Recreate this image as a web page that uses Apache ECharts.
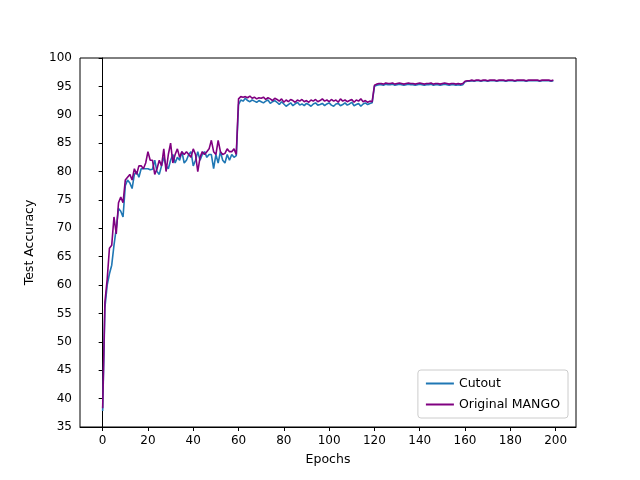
<!DOCTYPE html>
<html>
<head>
<meta charset="utf-8">
<script src="https://cdn.jsdelivr.net/npm/echarts@6/dist/echarts.min.js"></script>
<style>html,body{margin:0;padding:0;background:#fff}#chart{width:640px;height:480px}</style>
</head>
<body>
<div id="chart"></div>
<script>
// Test accuracy per epoch (0..199)
const cutout = [
  37.8, 56, 60, 62, 63.5, 67, 70, 73.5, 73, 72, 77.5, 78.5, 78, 77, 79.5, 80, 79, 80.5, 80.5, 80.5,
  80.5, 80.3, 80.4, 82, 80, 79.5, 81, 82.5, 81, 80.5, 82, 83, 81.5, 82.5, 82, 83.5, 81.5, 82, 83, 83.5,
  81, 82, 83.5, 82, 83, 83.5, 82.5, 83, 83, 80.5, 83, 81.5, 83.5, 82, 81.5, 83, 82, 83, 82.5, 82.8,
  91.8, 92.6, 92.4, 92.9, 92.5, 92.3, 92.6, 92.4, 92.2, 92.5, 92.3, 92.1, 92.4, 92.6, 92.0, 92.3, 92.5, 92.2, 91.8, 92.3,
  91.9, 91.5, 91.8, 92.1, 91.6, 91.9, 92.2, 91.7, 91.9, 91.6, 92.0, 91.8, 91.5, 91.9, 92.1, 91.7, 91.8, 92.0, 91.6, 91.9,
  92.1, 91.7, 91.5, 91.9, 92.0, 91.6, 91.8, 92.1, 91.7, 91.9, 92.2, 91.6, 91.8, 92.0, 91.5, 91.9, 92.1, 91.8, 92.0, 92.1,
  95.0, 95.2, 95.3, 95.3, 95.2, 95.4, 95.3, 95.3, 95.4, 95.2, 95.3, 95.4, 95.3, 95.2, 95.3, 95.4, 95.3, 95.3, 95.2, 95.3,
  95.4, 95.3, 95.2, 95.3, 95.3, 95.4, 95.2, 95.3, 95.3, 95.2, 95.3, 95.4, 95.3, 95.2, 95.3, 95.3, 95.2, 95.3, 95.2, 95.3,
  95.8, 95.9, 95.9, 96.0, 95.9, 96.0, 96.0, 95.9, 96.0, 96.0, 95.9, 96.0, 96.0, 96.0, 95.9, 96.0, 96.0, 96.0, 95.9, 96.0,
  96.0, 96.0, 95.9, 96.0, 96.0, 96.0, 96.0, 95.9, 96.0, 96.0, 96.0, 96.0, 96.0, 95.9, 96.0, 96.0, 96.0, 96.0, 95.9, 96.0
];
const mango = [
  38.3, 57, 61, 66.5, 67, 72, 69, 74.5, 75.5, 74.5, 78.5, 79, 79.5, 78.5, 80.5, 79.5, 81, 81, 80.5, 81.5,
  83.5, 82, 82, 79.5, 80.5, 82, 81, 84, 80, 83, 85, 81.5, 83, 84, 82.5, 83.5, 83, 83.5, 83, 82.5,
  84, 83, 80, 82.5, 83.5, 83, 83.5, 84, 85.5, 83.5, 83, 85.5, 83.5, 83, 83.2, 84, 83.5, 83.5, 84, 83,
  92.8, 93.2, 93.1, 93.2, 93.0, 93.3, 92.9, 93.1, 92.8, 93.0, 92.9, 93.1, 92.7, 93.0, 92.8, 92.5, 92.9, 92.7, 92.4, 92.8,
  92.2, 92.6, 92.3, 92.7, 92.5, 92.2, 92.6, 92.4, 92.7, 92.3, 92.5, 92.2, 92.6, 92.4, 92.7, 92.3, 92.5, 92.8, 92.4, 92.6,
  92.3, 92.7, 92.4, 92.6, 92.2, 92.8, 92.4, 92.6, 92.3, 92.5, 92.7, 92.2, 92.6, 92.4, 92.8, 92.3, 92.5, 92.2, 92.4, 92.3,
  95.2, 95.4, 95.5, 95.5, 95.4, 95.6, 95.5, 95.5, 95.6, 95.4, 95.5, 95.6, 95.5, 95.4, 95.5, 95.6, 95.5, 95.5, 95.4, 95.5,
  95.6, 95.5, 95.4, 95.5, 95.5, 95.6, 95.4, 95.5, 95.5, 95.4, 95.5, 95.6, 95.5, 95.4, 95.5, 95.5, 95.4, 95.5, 95.4, 95.5,
  95.9, 96.0, 96.0, 96.1, 96.0, 96.1, 96.1, 96.0, 96.1, 96.1, 96.0, 96.1, 96.1, 96.1, 96.0, 96.1, 96.1, 96.1, 96.0, 96.1,
  96.1, 96.1, 96.0, 96.1, 96.1, 96.1, 96.1, 96.0, 96.1, 96.1, 96.1, 96.1, 96.1, 96.0, 96.1, 96.1, 96.1, 96.1, 96.0, 96.1
];
const xTicks = [0, 20, 40, 60, 80, 100, 120, 140, 160, 180, 200];

(function() {
  const chart = echarts.init(document.getElementById('chart'), null, { renderer: 'canvas' });
  const font = 'DejaVu Sans';
  const pairs = arr => arr.map((v, i) => [i, v]);
  chart.setOption({
    animation: false,
    textStyle: { fontFamily: font },
    grid: { left: 80, right: 64, top: 58, bottom: 53 },
    legend: {
      orient: 'vertical', right: 72, bottom: 62,
      itemWidth: 28, itemHeight: 2, itemGap: 8,
      borderColor: '#ccc', borderWidth: 1, borderRadius: 3, padding: [7, 8],
      textStyle: { fontSize: 12.5, color: '#000', fontFamily: font },
      data: [{ name: 'Cutout', icon: 'rect' }, { name: 'Original MANGO', icon: 'rect' }]
    },
    xAxis: {
      type: 'value', min: -10, max: 209,
      name: 'Epochs', nameLocation: 'middle', nameGap: 26,
      nameTextStyle: { fontSize: 12.5, color: '#000' },
      axisLine: { onZero: false, lineStyle: { color: '#000' } },
      axisTick: { customValues: xTicks, length: 4, lineStyle: { color: '#000' } },
      axisLabel: { customValues: xTicks, color: '#000', fontSize: 12 },
      splitLine: { show: false }
    },
    yAxis: {
      type: 'value', min: 35, max: 100, interval: 5,
      name: 'Test Accuracy', nameLocation: 'middle', nameGap: 44,
      nameTextStyle: { fontSize: 12.5, color: '#000' },
      axisLine: { show: true, lineStyle: { color: '#000' } },
      axisTick: { show: true, length: 4, lineStyle: { color: '#000' } },
      axisLabel: { color: '#000', fontSize: 12 },
      splitLine: { show: false }
    },
    series: [
      { name: 'Cutout', type: 'line', data: pairs(cutout), showSymbol: false,
        lineStyle: { width: 1.6, color: '#1f77b4' }, itemStyle: { color: '#1f77b4' } },
      { name: 'Original MANGO', type: 'line', data: pairs(mango), showSymbol: false,
        lineStyle: { width: 1.6, color: '#800080' }, itemStyle: { color: '#800080' } }
    ]
  });
  // draw the top and right frame lines like the source plot
  chart.setOption({
    graphic: [{ type: 'rect', shape: { x: 80, y: 58, width: 496, height: 369 },
      style: { fill: 'none', stroke: '#000', lineWidth: 1 }, silent: true }]
  });
})();
</script>
</body>
</html>
